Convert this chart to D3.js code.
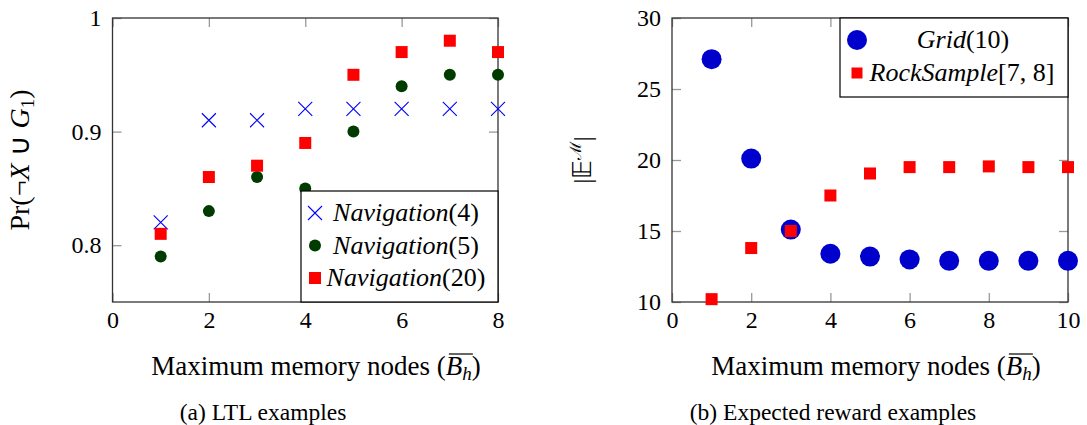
<!DOCTYPE html>
<html>
<head>
<meta charset="utf-8">
<script src="https://cdn.jsdelivr.net/npm/d3@7"></script>
<style>
  body { margin: 0; background: #fff; }
</style>
</head>
<body>
<svg width="1087" height="425" font-family="Liberation Serif"></svg>
<script>
// (a) LTL examples
var ltlX = [1, 2, 3, 4, 5, 6, 7, 8];
var nav4 = [0.82, 0.91, 0.91, 0.92, 0.92, 0.92, 0.92, 0.92];
var nav5 = [0.79, 0.83, 0.86, 0.85, 0.90, 0.94, 0.95, 0.95];
var nav20 = [0.81, 0.86, 0.87, 0.89, 0.95, 0.97, 0.98, 0.97];
var ltlXTicks = [0, 2, 4, 6, 8];
var ltlYTicks = [0.8, 0.9, 1];

// (b) Expected reward examples
var rewX = [1, 2, 3, 4, 5, 6, 7, 8, 9, 10];
var grid10 = [27.1, 20.1, 15.1, 13.4, 13.2, 13.0, 12.9, 12.9, 12.9, 12.9];
var rock78 = [10.2, 13.8, 15.0, 17.5, 19.05, 19.5, 19.5, 19.55, 19.5, 19.5];
var rewXTicks = [0, 2, 4, 6, 8, 10];
var rewYTicks = [10, 15, 20, 25, 30];

var FONT = "Liberation Serif";
var svg = d3.select("svg");
var top_ = 18, bottom = 302, tickLen = 9;

function drawAxes(g, x, y, xt, yt, yfmt) {
  var w = x.range()[1] - x.range()[0];
  var h = bottom - top_;
  g.append("g").attr("transform", "translate(0," + bottom + ")")
    .call(d3.axisBottom(x).tickValues(xt).tickSize(-tickLen).tickPadding(9).tickFormat(d3.format("d")));
  g.append("g").attr("transform", "translate(0," + top_ + ")")
    .call(d3.axisTop(x).tickValues(xt).tickSize(-tickLen).tickFormat(""));
  g.append("g").attr("transform", "translate(" + x.range()[0] + ",0)")
    .call(d3.axisLeft(y).tickValues(yt).tickSize(-tickLen).tickPadding(11).tickFormat(yfmt));
  g.append("g").attr("transform", "translate(" + x.range()[1] + ",0)")
    .call(d3.axisRight(y).tickValues(yt).tickSize(-tickLen).tickFormat(""));
  g.selectAll(".domain").remove();
  g.selectAll("g").attr("font-family", FONT).attr("font-size", 24);
  g.selectAll(".tick line").attr("stroke", "#999").attr("stroke-width", 1.3);
  g.selectAll(".tick text").attr("fill", "#000");
  g.append("rect")
    .attr("x", x.range()[0]).attr("y", top_)
    .attr("width", w).attr("height", h)
    .attr("fill", "none").attr("stroke", "#333").attr("stroke-width", 1.3);
}

function xTitle(g, cx) {
  var t = g.append("text").attr("x", cx).attr("y", 375)
    .attr("text-anchor", "middle").attr("font-family", FONT).attr("font-size", 27);
  t.append("tspan").text("Maximum memory nodes (");
  t.append("tspan").attr("font-style", "italic").text("B");
  t.append("tspan").attr("font-style", "italic").attr("font-size", 19).attr("dy", 5).text("h");
  t.append("tspan").attr("dy", -5).text(")");
  // overline over B_h
  var node = t.node();
  var bi = node.textContent.indexOf("B");
  var b = node.getExtentOfChar(bi), hh = node.getExtentOfChar(bi + 1);
  g.append("line")
    .attr("x1", b.x + 3).attr("x2", hh.x + hh.width + 1)
    .attr("y1", b.y + 3).attr("y2", b.y + 3)
    .attr("stroke", "#000").attr("stroke-width", 1.2);
}

function caption(g, cx, label) {
  g.append("text").attr("x", cx).attr("y", 420)
    .attr("text-anchor", "middle").attr("font-family", FONT).attr("font-size", 23.5).text(label);
}

// ---------- left chart ----------
var gL = svg.append("g");
var xL = d3.scaleLinear().domain([0, 8]).range([112.5, 498]);
var yL = d3.scaleLinear().domain([0.75, 1]).range([bottom, top_]);
drawAxes(gL, xL, yL, ltlXTicks, ltlYTicks, function(d) { return d === 1 ? "1" : d3.format(".1f")(d); });

var crossPath = "M-7,-7L7,7M-7,7L7,-7";
gL.selectAll(".n4").data(ltlX).enter().append("path")
  .attr("transform", function(d, i) { return "translate(" + xL(d) + "," + yL(nav4[i]) + ")"; })
  .attr("d", crossPath).attr("stroke", "#0000ff").attr("stroke-width", 1.1).attr("fill", "none");
gL.selectAll(".n5").data(ltlX).enter().append("circle")
  .attr("cx", function(d) { return xL(d); })
  .attr("cy", function(d, i) { return yL(nav5[i]); })
  .attr("r", 6).attr("fill", "#003b00");
gL.selectAll(".n20").data(ltlX).enter().append("rect")
  .attr("x", function(d) { return xL(d) - 6; })
  .attr("y", function(d, i) { return yL(nav20[i]) - 6; })
  .attr("width", 12).attr("height", 12).attr("fill", "#ff0000");

// legend (a)
var legL = gL.append("g");
legL.append("rect").attr("x", 301).attr("y", 191).attr("width", 197).attr("height", 111)
  .attr("fill", "#fff").attr("stroke", "#000").attr("stroke-width", 1.2);
var legAItems = ["4", "5", "20"];
legAItems.forEach(function(n, i) {
  var yy = 213 + i * 32.5;
  if (i === 0) legL.append("path").attr("transform", "translate(315," + yy + ")")
    .attr("d", crossPath).attr("stroke", "#0000ff").attr("stroke-width", 1.1);
  if (i === 1) legL.append("circle").attr("cx", 315).attr("cy", yy).attr("r", 6).attr("fill", "#003b00");
  if (i === 2) legL.append("rect").attr("x", 309).attr("y", yy - 6).attr("width", 12).attr("height", 12).attr("fill", "#ff0000");
  var t = legL.append("text").attr("x", 406).attr("y", yy + 8).attr("text-anchor", "middle")
    .attr("font-family", FONT).attr("font-size", 26);
  t.append("tspan").attr("font-style", "italic").text("Navigation");
  t.append("tspan").text("(" + n + ")");
});

// y label (a)
var ylA = gL.append("text").attr("transform", "translate(29,160) rotate(-90)")
  .attr("text-anchor", "middle").attr("font-family", FONT).attr("font-size", 28);
ylA.append("tspan").text("Pr(\u00AC");
ylA.append("tspan").attr("font-style", "italic").text("X");
ylA.append("tspan").text(" \u222A ");
ylA.append("tspan").attr("font-style", "italic").text("G");
ylA.append("tspan").attr("font-size", 19).attr("dy", 5).text("1");
ylA.append("tspan").attr("dy", -5).text(")");

xTitle(gL, 316);
caption(gL, 263, "(a) LTL examples");

// ---------- right chart ----------
var gR = svg.append("g");
var xR = d3.scaleLinear().domain([0, 10]).range([672, 1068]);
var yR = d3.scaleLinear().domain([10, 30]).range([bottom, top_]);
drawAxes(gR, xR, yR, rewXTicks, rewYTicks, d3.format("d"));

gR.selectAll(".g10").data(rewX).enter().append("circle")
  .attr("cx", function(d) { return xR(d); })
  .attr("cy", function(d, i) { return yR(grid10[i]); })
  .attr("r", 10).attr("fill", "#0000cc");
gR.selectAll(".rs").data(rewX).enter().append("rect")
  .attr("x", function(d) { return xR(d) - 6; })
  .attr("y", function(d, i) { return yR(rock78[i]) - 6; })
  .attr("width", 12).attr("height", 12).attr("fill", "#ff0000");

// legend (b)
var legR = gR.append("g");
legR.append("rect").attr("x", 840).attr("y", 18).attr("width", 228).attr("height", 79)
  .attr("fill", "#fff").attr("stroke", "#000").attr("stroke-width", 1.2);
legR.append("circle").attr("cx", 857).attr("cy", 40).attr("r", 10).attr("fill", "#0000cc");
legR.append("rect").attr("x", 851.5).attr("y", 67.5).attr("width", 11).attr("height", 11).attr("fill", "#ff0000");
var tg = legR.append("text").attr("x", 963).attr("y", 48).attr("text-anchor", "middle")
  .attr("font-family", FONT).attr("font-size", 26);
tg.append("tspan").attr("font-style", "italic").text("Grid");
tg.append("tspan").text("(10)");
var tr = legR.append("text").attr("x", 962).attr("y", 81).attr("text-anchor", "middle")
  .attr("font-family", FONT).attr("font-size", 26);
tr.append("tspan").attr("font-style", "italic").text("RockSample");
tr.append("tspan").text("[7, 8]");

// y label (b)
var ylB = gR.append("text").attr("transform", "translate(591,160) rotate(-90)")
  .attr("text-anchor", "middle").attr("font-family", FONT).attr("font-size", 26);
ylB.append("tspan").text("|\uD835\uDD3C");
ylB.append("tspan").attr("font-size", 16).attr("font-family", "DejaVu Serif").attr("dy", -10).text("\u2133");
ylB.append("tspan").attr("dy", 10).text("|");

xTitle(gR, 876);
caption(gR, 833, "(b) Expected reward examples");
</script>
</body>
</html>
